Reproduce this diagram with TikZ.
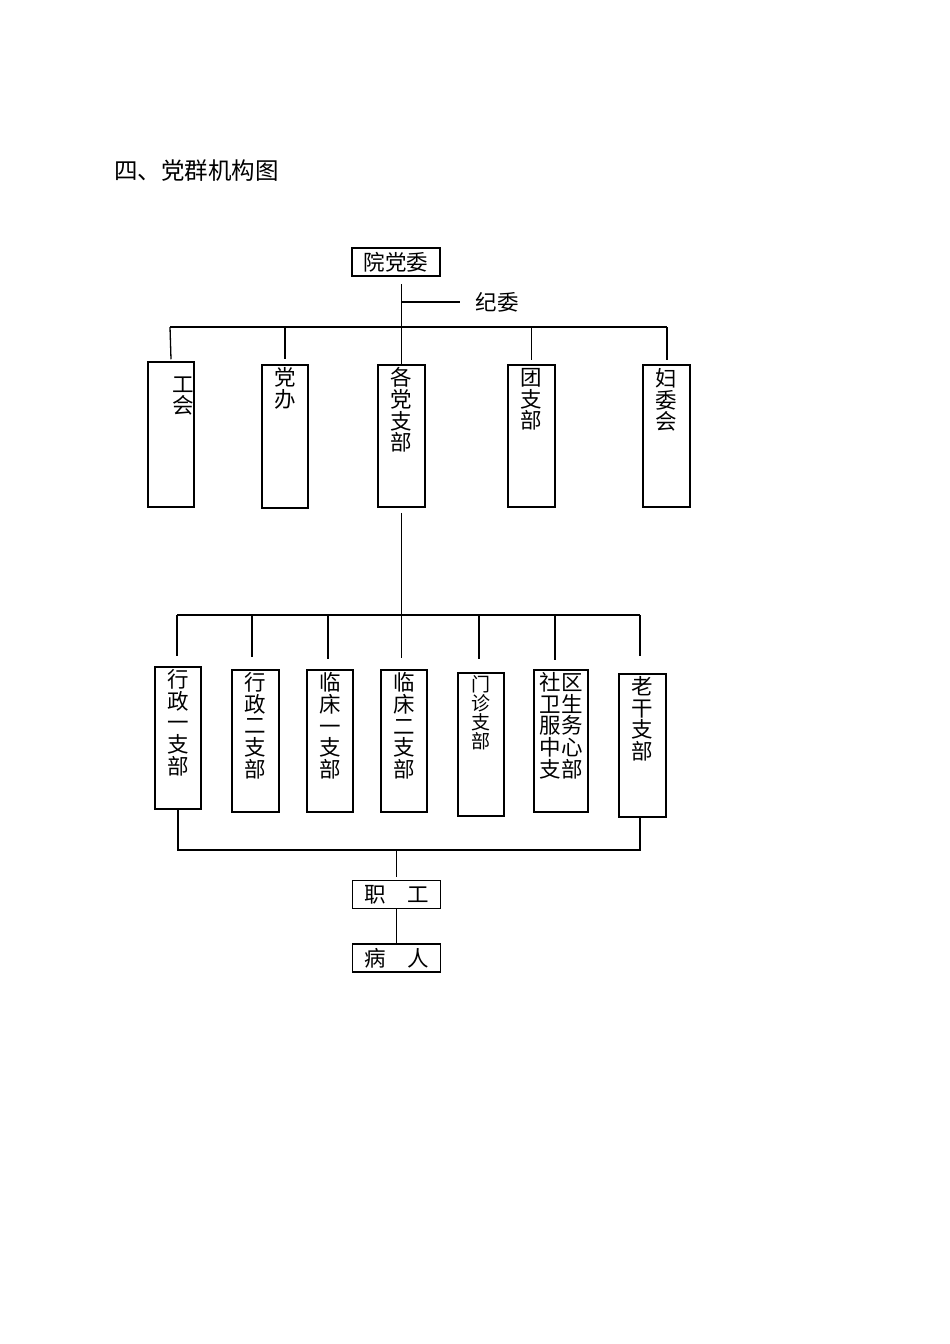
\documentclass[tikz,border=0pt]{standalone}
\usepackage{fontspec}
\newfontfamily\cjk{Noto Sans CJK SC}
\usetikzlibrary{positioning}

\begin{document}
\begin{tikzpicture}[x=1pt,y=-1pt,
 box/.style={draw, line width=1.5pt, inner sep=0pt, minimum width=47pt, minimum height=142pt},
 vtext/.style={align=center, inner sep=0pt, font=\cjk\fontsize{21.5}{21.7}\selectfont},
 htext/.style={inner sep=0pt, font=\cjk\fontsize{21.5}{22}\selectfont},
 link/.style={line width=1.3pt}]
 \useasboundingbox (0,0) rectangle (950,1344);

 \node[htext, anchor=west, font=\cjk\fontsize{23.5}{24}\selectfont] (title) at (114,170.5) {四、党群机构图};

 \node[box, minimum width=88pt, minimum height=28pt, htext] (ydw) at (396,262) {院党委};
 \node[htext] (jw) at (497,302) {纪委};
 \coordinate (t0) at (401.5,284);
 \coordinate (jwj) at (401.5,302);
 \coordinate (b1l) at (170,327);
 \coordinate (b1r) at (667,327);

 \node[box, minimum width=46pt, minimum height=145pt] (gh) at (171,434.5) {};
 \node[box, minimum width=46pt, minimum height=143pt] (db) at (285,436.5) {};
 \node[box] (gdzb) at (401.5,436) {};
 \node[box] (tzb) at (531.5,436) {};
 \node[box] (fwh) at (666.5,436) {};
 \node[vtext, below=15pt of gh.north, xshift=12pt] (gh-t) {工\\会};
 \node[vtext, below=3pt of db.north] (db-t) {党\\办};
 \node[vtext, below=3pt of gdzb.north] (gdzb-t) {各\\党\\支\\部};
 \node[vtext, below=4pt of tzb.north] (tzb-t) {团\\支\\部};
 \node[vtext, below=4pt of fwh.north] (fwh-t) {妇\\委\\会};

 \draw[link] (t0) -- (gdzb.north);
 \draw[link] (jwj) -- ([xshift=-15pt]jw.west);
 \draw[link] (b1l) -- (b1r);
 \draw[link] (b1l) -- ([yshift=2pt]gh.north);
 \draw[link] (db.north |- b1l) -- ([yshift=5pt]db.north);
 \draw[link] (tzb.north |- b1l) -- ([yshift=4pt]tzb.north);
 \draw[link] (b1r) -- ([yshift=4pt]fwh.north -| b1r);

 \coordinate (b2l) at (177,615);
 \coordinate (b2r) at (640,615);
 \node[box, minimum width=46pt] (xz1) at (178,738) {};
 \node[box] (xz2) at (255.5,741) {};
 \node[box, minimum width=46pt] (lc1) at (330,741) {};
 \node[box, minimum width=46pt] (lc2) at (404,741) {};
 \node[box, minimum width=46pt, minimum height=143pt] (mz) at (481,744.5) {};
 \node[box, minimum width=54pt] (sq) at (561,741) {};
 \node[box, minimum height=143pt] (lg) at (642.5,745.5) {};
 \node[vtext, below=3pt of xz1.north] (xz1-t) {行\\政\\一\\支\\部};
 \node[vtext, below=3pt of xz2.north] (xz2-t) {行\\政\\二\\支\\部};
 \node[vtext, below=3pt of lc1.north] (lc1-t) {临\\床\\一\\支\\部};
 \node[vtext, below=3pt of lc2.north] (lc2-t) {临\\床\\二\\支\\部};
 \node[vtext, below=3pt of mz.north, font=\cjk\fontsize{19}{19}\selectfont] (mz-t) {门\\诊\\支\\部};
 \node[vtext, below=3pt of sq.north] (sq-t) {社区\\卫生\\服务\\中心\\支部};
 \node[vtext, below=3pt of lg.north] (lg-t) {老\\干\\支\\部};

 \draw[link] ([yshift=-5pt]gdzb.south) -- ([yshift=11pt]gdzb.south |- lc2.north);
 \draw[link] (b2l) -- (b2r);
 \draw[link] (b2l) -- ([yshift=10pt]b2l |- xz1.north);
 \draw[link] (252,615) -- ([yshift=13pt]252,670);
 \draw[link] (328,615) -- ([yshift=11pt]328,670);
 \draw[link] (479,615) -- ([yshift=14pt]479,673);
 \draw[link] (555,615) -- ([yshift=10pt]555,670);
 \draw[link] (b2r) -- ([yshift=17pt]b2r |- lg.north);

 \node[box, minimum width=88pt, minimum height=28pt, htext] (zg) at (396.5,894.5) {职　工};
 \node[box, minimum width=88pt, minimum height=28pt, htext] (br) at (396.5,958) {病　人};
 \coordinate (b3) at (396.5,850);
 \draw[link] (xz1.south) -- (xz1.south |- b3) -- (b3 -| b2r) -- (b2r |- lg.south);
 \draw[link] (b3) -- ([yshift=3pt]zg.north);
 \draw[link] (zg.south) -- (br.north);
\end{tikzpicture}
\end{document}
